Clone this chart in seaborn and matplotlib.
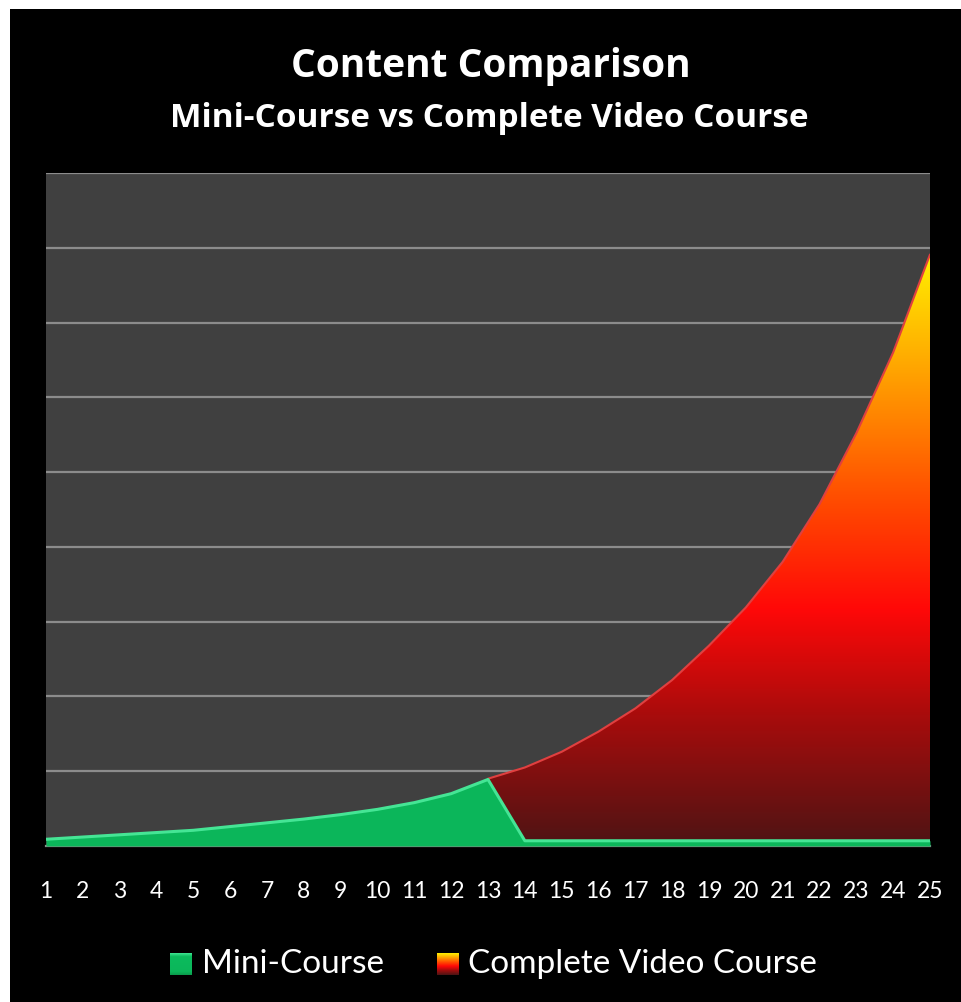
import numpy as np
import matplotlib.pyplot as plt
import seaborn as sns
from matplotlib.colors import LinearSegmentedColormap
from matplotlib.patches import Rectangle

# chart values
steps = list(range(1, 26))
mini_course = [0.09, 0.12, 0.15, 0.18, 0.21, 0.26, 0.31, 0.36, 0.42, 0.49, 0.58, 0.70, 0.89,
               0.07, 0.07, 0.07, 0.07, 0.07, 0.07, 0.07, 0.07, 0.07, 0.07, 0.07, 0.07]
complete_course = [np.nan] * 12 + [0.90, 1.05, 1.26, 1.53, 1.84, 2.22, 2.68, 3.19,
                                   3.80, 4.57, 5.52, 6.60, 7.91]
tick_labels = [str(s) for s in steps]
title = "Content Comparison"
subtitle = "Mini-Course vs Complete Video Course"
legend_labels = ["Mini-Course", "Complete Video Course"]

sns.set_theme(style="dark", rc={"axes.facecolor": "#404040", "figure.facecolor": "white"})
plt.rcParams["font.family"] = ["Lato", "DejaVu Sans"]

W, H = 961, 1002
fig = plt.figure(figsize=(W / 100, H / 100), dpi=100)
# black card with thin white margin on top/left
fig.patches.append(Rectangle((10 / W, 0), 1, 1 - 9 / H, transform=fig.transFigure,
                             facecolor="black", edgecolor="none", zorder=-10))

ax = fig.add_axes([46 / W, 1 - 846 / H, 884 / W, 673 / H])
ax.set_facecolor("#404040")

red_cmap = LinearSegmentedColormap.from_list("cvc", [
    (0.0, "#4e1414"), (0.22, "#a80c0c"), (0.40, "#ff0808"),
    (0.58, "#ff4a00"), (0.78, "#ff9a00"), (1.0, "#fff000")])
green_cmap = LinearSegmentedColormap.from_list("mc", [
    (0.0, "#0a9c4c"), (0.15, "#0bb65a"), (0.85, "#0cbb5d"), (1.0, "#3fe592")])

# complete video course (behind)
cc = np.array(complete_course)
mask = ~np.isnan(cc)
xs = np.array(steps)[mask]
red_fill = ax.fill_between(xs, 0, cc[mask], facecolor="none", edgecolor="none")
grad = np.linspace(0, 1, 256).reshape(-1, 1)
im = ax.imshow(grad, extent=[xs[0], xs[-1], 0, np.nanmax(cc)], origin="lower",
               aspect="auto", cmap=red_cmap, zorder=2)
im.set_clip_path(red_fill.get_paths()[0], transform=ax.transData)
sns.lineplot(x=xs, y=cc[mask], ax=ax, color="#e04040", lw=1.5, zorder=3)

# mini course (front)
ax.fill_between(steps, 0, mini_course, color="#0bb65a", lw=0, zorder=4)
sns.lineplot(x=steps, y=mini_course, ax=ax, color="#45e595", lw=2.2, zorder=5)

ax.set_xlim(1, 25)
ax.set_ylim(0, 9)
ax.set_yticks(range(0, 10))
ax.set_yticklabels([])
ax.grid(axis="y", color="#8c8c8c", lw=1.6, zorder=1)
ax.grid(axis="x", visible=False)
ax.set_axisbelow(True)
ax.set_xticks(steps)
ax.set_xticklabels(tick_labels, color="white", fontsize=16.5)
ax.tick_params(axis="x", length=0, pad=25)
ax.tick_params(axis="y", length=0)
for side in ["top", "left", "right"]:
    ax.spines[side].set_visible(False)
ax.spines["bottom"].set_color("#8c8c8c")
ax.spines["bottom"].set_linewidth(1.6)
ax.set_xlabel("")
ax.set_ylabel("")

# titles
fig.text(491 / W, 1 - 77 / H, title, ha="center", va="baseline", color="white",
         fontsize=28, fontweight="bold", family=["Open Sans", "DejaVu Sans"])
fig.text(489 / W, 1 - 127 / H, subtitle, ha="center", va="baseline", color="white",
         fontsize=24, fontweight="bold", family=["Open Sans", "DejaVu Sans"])

# legend with gradient swatches
def swatch(x0, cmap):
    sax = fig.add_axes([x0 / W, 1 - 975 / H, 22 / W, 22 / H])
    sax.imshow(np.linspace(0, 1, 64).reshape(-1, 1), origin="lower", aspect="auto", cmap=cmap)
    sax.axis("off")

swatch(170, green_cmap)
swatch(437, red_cmap)
fig.text(202 / W, 1 - 973 / H, legend_labels[0], color="white", fontsize=24, va="baseline")
fig.text(468 / W, 1 - 973 / H, legend_labels[1], color="white", fontsize=24, va="baseline")

fig.savefig("out.png", dpi=100, facecolor="white")
